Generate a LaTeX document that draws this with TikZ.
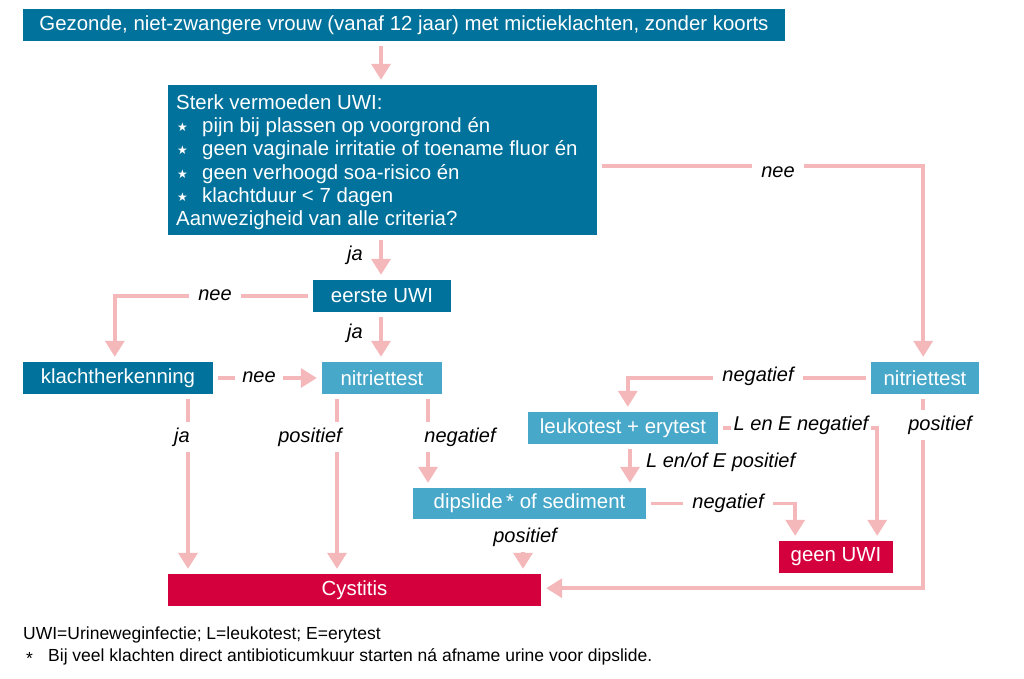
\documentclass[tikz,border=0pt]{standalone}
\usepackage{fontspec}
\setmainfont{Liberation Sans}
\newfontfamily\djv{DejaVu Sans}
\usetikzlibrary{arrows.meta}
\definecolor{dblue}{HTML}{00729B}
\definecolor{lblue}{HTML}{48A8C9}
\definecolor{cred}{HTML}{D4003D}
\definecolor{apink}{HTML}{F4B8BB}
\tikzset{
  box/.style={inner sep=0pt, text=white, font=\fontsize{20.4}{23}\selectfont, anchor=center},
  dbox/.style={box, fill=dblue},
  lbox/.style={box, fill=lblue},
  rbox/.style={box, fill=cred},
  conn/.style={draw=apink, line width=3.5pt, shorten <=5pt},
  arr/.style={conn, -{Triangle[width=19pt,length=16pt]}, shorten >=5pt},
  lab/.style={font=\fontsize{20}{22}\selectfont\itshape, fill=white, inner xsep=9pt, inner ysep=6pt, text=black},
  slab/.style={lab, inner xsep=3pt},
  nlab/.style={font=\fontsize{20}{22}\selectfont\itshape, inner sep=1pt, text=black},
  foot/.style={font=\fontsize{17.5}{20}\selectfont, inner sep=0pt, anchor=west, text=black}
}
\newcommand{\bstar}{\hspace*{1pt}\makebox[25pt][l]{\raisebox{1pt}{\djv\fontsize{12}{12}\selectfont ★}}}
\begin{document}
\begin{tikzpicture}[x=1pt,y=-1pt]
\useasboundingbox (0,0) rectangle (1024,679);
% boxes
\node[dbox, minimum width=762pt, minimum height=32pt] (top) at (404,25) {Gezonde, niet-zwangere vrouw (vanaf 12 jaar) met mictieklachten, zonder koorts};
\node[dbox, minimum width=429pt, minimum height=150pt] (main) at (382.5,160) {};
\node[anchor=north west, inner sep=0pt, text=white, font=\fontsize{20.4}{23.2}\selectfont, align=left] (maintext) at (176,94.5) {Sterk vermoeden UWI:\\
\bstar pijn bij plassen op voorgrond én\\
\bstar geen vaginale irritatie of toename fluor én\\
\bstar geen verhoogd soa-risico én\\
\bstar klachtduur < 7 dagen\\
Aanwezigheid van alle criteria?};
\node[dbox, minimum width=138pt, minimum height=32pt] (eerste) at (382,296) {eerste UWI};
\node[dbox, minimum width=190pt, minimum height=32pt] (klacht) at (118,378) {klachtherkenning};
\node[lbox, minimum width=120pt, minimum height=32pt] (nitL) at (382,378) {nitriettest};
\node[lbox, minimum width=108pt, minimum height=32pt] (nitR) at (925,378) {nitriettest};
\node[lbox, minimum width=190pt, minimum height=32pt] (leuko) at (623,428) {leukotest + erytest};
\node[lbox, minimum width=233pt, minimum height=31pt] (dip) at (529.5,503.5) {dipslide\,* of sediment};
\node[rbox, minimum width=373pt, minimum height=32pt] (cyst) at (354.5,590) {Cystitis};
\node[rbox, minimum width=114pt, minimum height=32pt] (geen) at (836,557) {geen UWI};
% connectors
\draw[arr] ([xshift=-23pt]top.south) -- ([xshift=-1.5pt]main.north);
\draw[arr] ([xshift=-1.5pt]main.south) -- ([xshift=-1pt]eerste.north);
\node[nlab] at (355,255) {ja};
\draw[arr] ([xshift=-1pt]eerste.south) -- ([xshift=-1pt]nitL.north);
\node[nlab] at (355,333) {ja};
\draw[arr] (eerste.west) -- ++(-198,0) coordinate (c1) -- (c1 |- klacht.north);
\node[lab] at (215,295) {nee};
\draw[arr] (klacht.east) -- (nitL.west);
\node[lab, inner xsep=7pt] at (259,377) {nee};
\draw[arr] ([xshift=70pt]klacht.south) -- ([xshift=-166.5pt]cyst.north);
\node[lab] at (182,437) {ja};
\draw[arr] ([xshift=-45pt]nitL.south) -- ([xshift=-17.5pt]cyst.north);
\node[lab] at (310,437) {positief};
\draw[arr] ([xshift=46pt]nitL.south) -- ([xshift=-101.5pt]dip.north);
\node[lab] at (460,437) {negatief};
\draw[arr] ([xshift=-6.5pt]dip.south) -- ([xshift=168.5pt]cyst.north);
\node[lab] at (525,537) {positief};
\draw[arr] (dip.east) -- ++(149,0) coordinate (c2) -- (c2 |- geen.north);
\node[lab] at (728,503) {negatief};
\draw[arr] (leuko.east) -- ++(159,0) coordinate (c3) -- (c3 |- geen.north);
\node[slab] at (801,425) {L en E negatief};
\draw[arr] ([xshift=7pt]leuko.south) -- ([xshift=100.5pt]dip.north);
\node[nlab, anchor=west] at (645,462) {L en/of E positief};
\draw[arr] ([yshift=-6pt]main.east) -- ++(326,0) coordinate (c4) -- (c4 |- nitR.north);
\node[lab] at (778,172) {nee};
\draw[arr] (nitR.west) -- ++(-243,0) coordinate (c5) -- (c5 |- leuko.north);
\node[lab] at (758,376) {negatief};
\draw[arr] ([xshift=-2pt]nitR.south) -- ++(0,194) coordinate (c6) -- (c6 -| cyst.east);
\node[lab] at (940,425) {positief};
% footer
\node[foot] (f1) at (23,635) {UWI=Urineweginfectie; L=leukotest; E=erytest};
\node[foot] (f2) at (26,658) {*};
\node[foot] (f3) at (48,657) {Bij veel klachten direct antibioticumkuur starten ná afname urine voor dipslide.};
\end{tikzpicture}
\end{document}
